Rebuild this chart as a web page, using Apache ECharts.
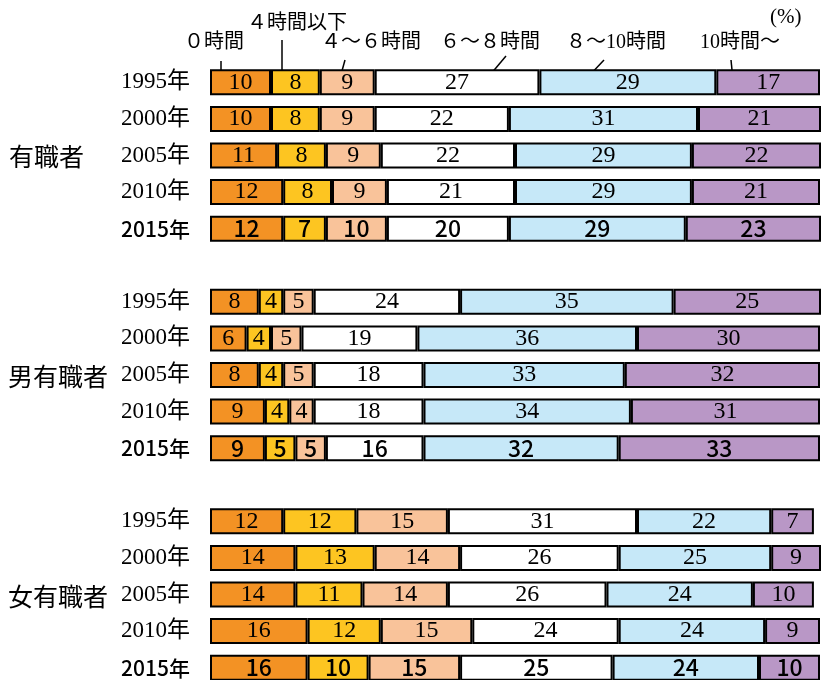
<!DOCTYPE html>
<html lang="ja">
<head>
    <meta charset="UTF-8">
    <title>睡眠時間の分布</title>
    <script src="https://cdn.jsdelivr.net/npm/echarts@6/dist/echarts.min.js"></script>
    <style>
        html, body { margin: 0; padding: 0; background: #fff; }
        #main { width: 822px; height: 680px; }
    </style>
</head>
<body>
<div id="main"></div>
<script>
    // データ（%）
    const years = ['1995年', '2000年', '2005年', '2010年', '2015年'];
    const groups = ['有職者', '男有職者', '女有職者'];
    const bands = ['０時間', '４時間以下', '４～６時間', '６～８時間', '８～10時間', '10時間～'];
    const colors = ['#F39224', '#FDC521', '#F9C39A', '#FFFFFF', '#C6E8F8', '#B997C6'];

    const allWorkers = [
        [10, 8, 9, 27, 29, 17],
        [10, 8, 9, 22, 31, 21],
        [11, 8, 9, 22, 29, 22],
        [12, 8, 9, 21, 29, 21],
        [12, 7, 10, 20, 29, 23]
    ];
    const maleWorkers = [
        [8, 4, 5, 24, 35, 25],
        [6, 4, 5, 19, 36, 30],
        [8, 4, 5, 18, 33, 32],
        [9, 4, 4, 18, 34, 31],
        [9, 5, 5, 16, 32, 33]
    ];
    const femaleWorkers = [
        [12, 12, 15, 31, 22, 7],
        [14, 13, 14, 26, 25, 9],
        [14, 11, 14, 26, 24, 10],
        [16, 12, 15, 24, 24, 9],
        [16, 10, 15, 25, 24, 10]
    ];

    const chart = echarts.init(document.getElementById('main'));

    const serif = '"Liberation Serif", "DejaVu Serif", "Noto Sans CJK JP", serif';
    const sans = '"Noto Sans CJK JP", sans-serif';

    // 行を組み立てる（グループの間に空行を入れる）
    const groupData = [allWorkers, maleWorkers, femaleWorkers];
    const rows = [];
    groupData.forEach((g, gi) => {
        g.forEach((r, yi) => rows.push({ key: groups[gi] + '|' + years[yi], values: r, bold: yi === 4 }));
        if (gi < groupData.length - 1) rows.push({ key: 'blank' + gi, values: null });
    });

    const series = bands.map((name, bi) => ({
        name: name,
        type: 'bar',
        stack: 'total',
        barWidth: 26,
        itemStyle: { color: colors[bi], borderColor: '#000', borderWidth: 2 },
        label: {
            show: true,
            position: 'inside',
            color: '#000',
            fontSize: 24,
            fontFamily: serif
        },
        data: rows.map(r => {
            if (!r.values) return '-';
            if (r.bold) {
                return {
                    value: r.values[bi],
                    label: { fontFamily: sans, fontWeight: 500, fontSize: 23 }
                };
            }
            return r.values[bi];
        })
    }));

    const annot = (text, x, y, size) => ({
        type: 'text', left: x, top: y,
        style: { text: text, fontSize: size || 20, fontFamily: serif, fill: '#000' }
    });
    const lead = (x1, y1, x2, y2) => ({
        type: 'line',
        shape: { x1: x1, y1: y1, x2: x2, y2: y2 },
        style: { stroke: '#000', lineWidth: 1.5 }
    });

    chart.setOption({
        animation: false,
        grid: { left: 210, right: 2, top: 64, height: 622, outerBoundsMode: 'none' },
        xAxis: { type: 'value', min: 0, max: 100, show: false },
        yAxis: {
            type: 'category',
            inverse: true,
            data: rows.map(r => r.key),
            axisLine: { show: false },
            axisTick: { show: false },
            axisLabel: {
                margin: 20,
                fontSize: 23,
                fontFamily: serif,
                color: '#000',
                formatter: function (v) {
                    if (v.indexOf('|') < 0) return '';
                    const y = v.split('|')[1];
                    return y === years[4] ? '{b|' + y + '}' : y;
                },
                rich: {
                    b: { fontFamily: sans, fontWeight: 500, fontSize: 21, color: '#000' }
                }
            }
        },
        series: series,
        graphic: [
            { type: 'text', left: 9, top: 144, style: { text: groups[0], fontSize: 25, fontFamily: sans, fill: '#000' } },
            { type: 'text', left: 8, top: 364, style: { text: groups[1], fontSize: 25, fontFamily: sans, fill: '#000' } },
            { type: 'text', left: 8, top: 584, style: { text: groups[2], fontSize: 25, fontFamily: sans, fill: '#000' } },
            annot(bands[0], 184, 33),
            annot(bands[1], 247, 14),
            annot(bands[2], 321, 33),
            annot(bands[3], 440, 33),
            annot(bands[4], 566, 33),
            annot(bands[5], 700, 33),
            annot('(%)', 770, 7, 21),
            lead(221, 61, 221, 78),
            lead(282, 40, 282, 78),
            lead(345, 60, 340, 78),
            lead(506, 56, 490, 75),
            lead(604, 60, 587, 78),
            lead(731, 60, 733, 80)
        ]
    });
</script>
</body>
</html>
